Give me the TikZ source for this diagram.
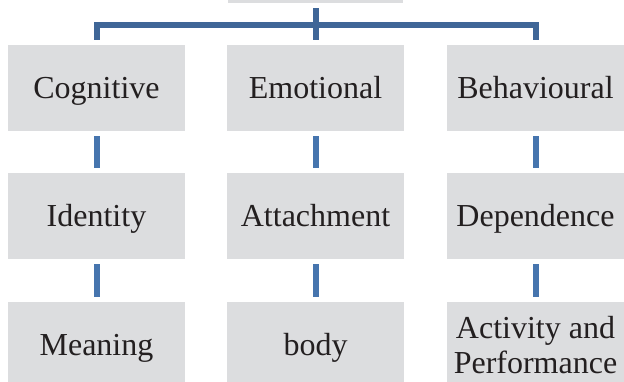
\documentclass[tikz,border=0pt]{standalone}
\usepackage{fontspec}
\setmainfont{Liberation Serif}
\definecolor{boxgray}{HTML}{DCDDDF}
\definecolor{topblue}{HTML}{3F6697}
\definecolor{rowblue}{HTML}{4675AE}
\definecolor{txt}{HTML}{231F20}
\begin{document}
\begin{tikzpicture}[x=1pt,y=1pt,
  box/.style={fill=boxgray, draw=none, minimum width=177pt, minimum height=86pt,
    inner sep=0pt, align=center, text=txt, font=\fontsize{32}{35}\selectfont},
  one/.style={text height=20pt, text depth=0pt},
  topconn/.style={draw=topblue, line width=6pt, line join=miter},
  rowconn/.style={draw=rowblue, line width=6pt, shorten <=5pt, shorten >=5pt}]
\path[use as bounding box, clip] (0,0) rectangle (624,-381);
% top (cut off) box
\node[box, minimum width=175pt] (top) at (315.5,40) {};
% row 1
\node[box, one] (cog) at (96.5,-88) {Cognitive};
\node[box, one] (emo) at (315.5,-88) {Emotional};
\node[box, one] (beh) at (535.5,-88) {Behavioural};
% row 2
\node[box, one] (ide) at (96.5,-216) {Identity};
\node[box, one] (att) at (315.5,-216) {Attachment};
\node[box, one] (dep) at (535.5,-216) {Dependence};
% row 3
\node[box, one] (mea) at (96.5,-345) {Meaning};
\node[box, one] (bod) at (315.5,-345) {body};
\node[box] (act) at (535.5,-345) {Activity and\\Performance};
% top connectors
\coordinate (hub) at (315.5,-24.5);
\draw[topconn] ([yshift=-5pt]top.south) -- ([yshift=5pt]emo.north);
\draw[topconn] ([yshift=5pt]cog.north) |- (hub) -| ([yshift=5pt]beh.north);
% row connectors
\draw[rowconn] (cog) -- (ide);
\draw[rowconn] (emo) -- (att);
\draw[rowconn] (beh) -- (dep);
\draw[rowconn] (ide) -- (mea);
\draw[rowconn] (att) -- (bod);
\draw[rowconn] (dep) -- (act);
\end{tikzpicture}
\end{document}
